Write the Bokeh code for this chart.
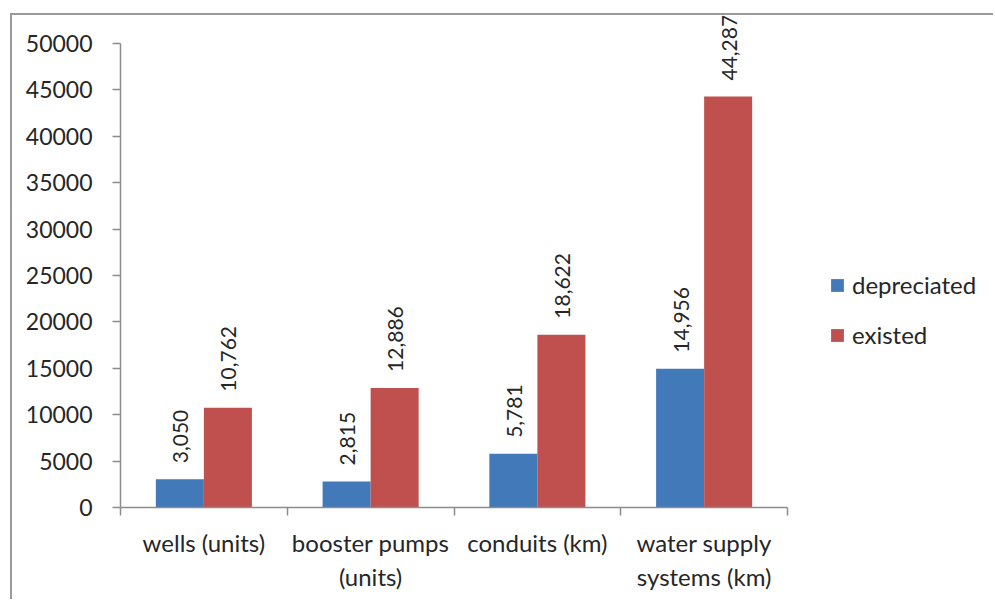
import math
from bokeh.plotting import figure
from bokeh.models import (ColumnDataSource, FixedTicker, Legend, LegendItem,
                          Range1d, LabelSet)
from bokeh.core.properties import value
from bokeh.embed import file_html
from bokeh.resources import INLINE

# ---- data ----
categories = ["wells (units)", "booster pumps\n(units)", "conduits (km)", "water supply\nsystems (km)"]
depreciated = [3050, 2815, 5781, 14956]
existed = [10762, 12886, 18622, 44287]
series_names = ["depreciated", "existed"]
y_ticks = [0, 5000, 10000, 15000, 20000, 25000, 30000, 35000, 40000, 45000, 50000]
y_tick_labels = ["0", "5000", "10000", "15000", "20000", "25000", "30000", "35000", "40000", "45000", "50000"]

# ---- style / layout ----
FONT = "Lato"
FS_NUM = "23px"
FS_LAB = "21px"
FS_TXT = "24px"
TXT = "#262626"
AXC = "#8c8c8c"
BLUE = "#4279B8"
RED = "#C0504E"
BW = 0.288

W, H = 983, 586
LEFT, BOTTOM = 108, 94
AXIS_W, AXIS_H = 667, 464          # pixel extent of the drawn axes

n = len(categories)
y_max = y_ticks[-1]
frame_w = W - LEFT
frame_h = H - BOTTOM
x_end = n * frame_w / AXIS_W
y_end = y_max * frame_h / AXIS_H

centers = [i + 0.5 for i in range(n)]
bounds = list(range(n + 1))

src_d = ColumnDataSource(dict(x=[c - BW / 2 for c in centers], top=depreciated,
                              lab=[f"{v:,}" for v in depreciated]))
src_e = ColumnDataSource(dict(x=[c + BW / 2 for c in centers], top=existed,
                              lab=[f"{v:,}" for v in existed]))

p = figure(width=W, height=H, x_range=Range1d(0, x_end), y_range=Range1d(0, y_end),
           output_backend="svg", toolbar_location=None,
           min_border_left=LEFT, min_border_right=0, min_border_top=0, min_border_bottom=BOTTOM,
           margin=(13, 0, 0, 10),
           styles={"border-left": "2px solid #9a9a9a", "border-top": "2px solid #9a9a9a"})
p.outline_line_color = None
p.xgrid.visible = False
p.ygrid.visible = False

r1 = p.vbar(x="x", top="top", width=BW, bottom=0, source=src_d, fill_color=BLUE, line_color=None)
r2 = p.vbar(x="x", top="top", width=BW, bottom=0, source=src_e, fill_color=RED, line_color=None)

for src in (src_d, src_e):
    p.add_layout(LabelSet(x="x", y="top", text="lab", source=src, angle=math.pi / 2,
                          text_align="left", text_baseline="middle", y_offset=16, x_offset=1,
                          text_font=value(FONT), text_font_size=value(FS_LAB),
                          text_color=value(TXT)))

# y axis
ya = p.yaxis[0]
ya.bounds = (0, y_max)
ya.ticker = FixedTicker(ticks=y_ticks, minor_ticks=[])
ya.major_label_overrides = {t: l for t, l in zip(y_ticks, y_tick_labels)}
ya.axis_line_color = AXC
ya.axis_line_width = 1.5
ya.major_tick_line_color = AXC
ya.major_tick_line_width = 1.5
ya.major_tick_out = 8
ya.major_tick_in = 0
ya.minor_tick_line_color = None
ya.major_label_standoff = 20
ya.major_label_text_font = FONT
ya.major_label_text_font_size = FS_NUM
ya.major_label_text_color = TXT

# x axis
xa = p.xaxis[0]
xa.bounds = (0, n)
xa.ticker = FixedTicker(ticks=centers, minor_ticks=bounds)
xa.major_label_overrides = {c: l for c, l in zip(centers, categories)}
xa.axis_line_color = AXC
xa.axis_line_width = 1.5
xa.major_tick_line_color = None
xa.major_tick_out = 0
xa.major_tick_in = 0
xa.minor_tick_line_color = AXC
xa.minor_tick_line_width = 1.5
xa.minor_tick_out = 8
xa.minor_tick_in = 0
xa.major_label_standoff = 12
xa.major_label_text_font = FONT
xa.major_label_text_font_size = FS_TXT
xa.major_label_text_color = TXT
xa.major_label_text_line_height = 1.2

legend = Legend(items=[LegendItem(label=series_names[0], renderers=[r1]),
                       LegendItem(label=series_names[1], renderers=[r2])],
                location=(709, 158), glyph_width=16, glyph_height=16, label_height=16,
                spacing=21, padding=0, margin=0, border_line_color=None,
                background_fill_alpha=0, label_standoff=7,
                label_text_font=FONT, label_text_font_size=FS_TXT, label_text_color=TXT)
p.add_layout(legend)

open("out.html", "w").write(file_html(p, INLINE))
